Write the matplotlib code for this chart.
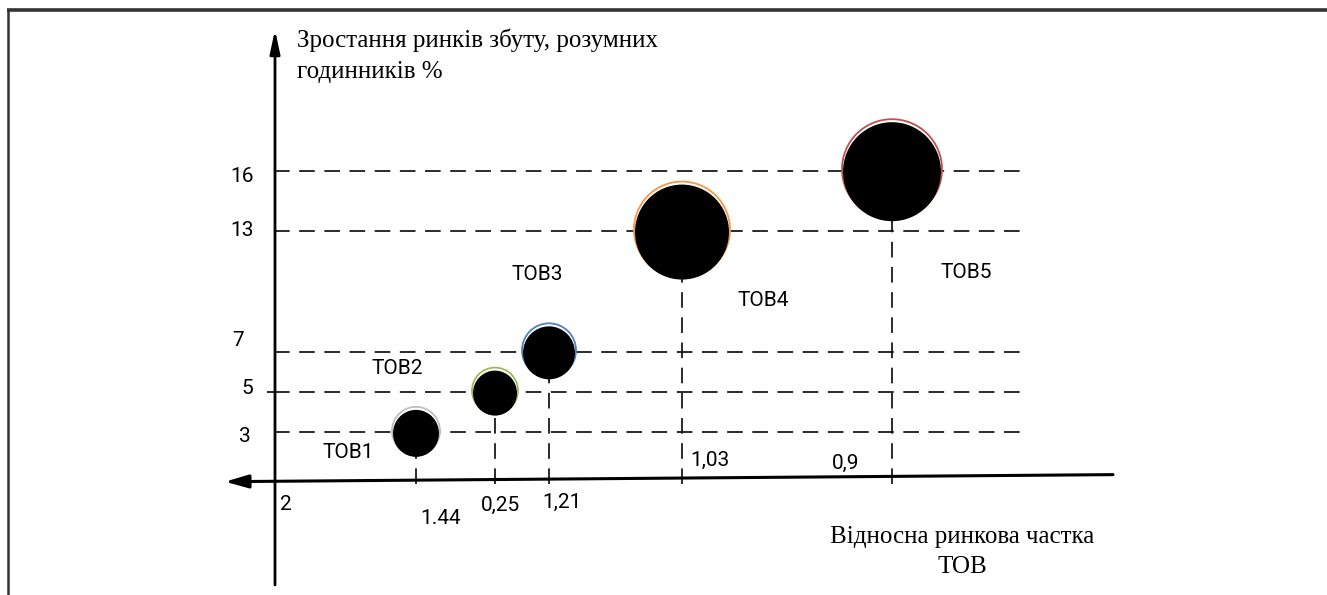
import matplotlib
matplotlib.use('Agg')
import matplotlib.pyplot as plt
from matplotlib.patches import Ellipse

# BCG-style sketch: market growth vs relative market share
companies = ["ТОВ1", "ТОВ2", "ТОВ3", "ТОВ4", "ТОВ5"]
growth = [3, 5, 7, 13, 16]
share_labels = ["1.44", "0,25", "1,21", "1,03", "0,9"]
origin_label = "2"
# horizontal placement of each company on the sketch (diagram units)
x_pos = [416, 495, 549, 682, 892]
bubble_r = [24, 23, 27, 48, 50]
rim_colors = ["#bfbfbf", "#9bbb59", "#4f81bd", "#f79646", "#c0504d"]

W, H = 1327, 595
plt.rcParams['font.family'] = ['Roboto', 'DejaVu Sans']

fig = plt.figure(figsize=(W / 100, H / 100), dpi=100)
fig.patch.set_facecolor("white")

# data axes: x in diagram units, y in growth %
ax = fig.add_axes([0, 0, 1, 1])
ax.set_xlim(0, W)
ax.set_ylim(-5.08, 24.48)
ax.axis("off")
unit_px = H / (24.48 + 5.08)
axis_level = 0.55

dash = (0, (9, 5.5))
ax.hlines(growth, 274, 1027, colors="#111111", lw=1.25, linestyles=dash, zorder=1)
ax.hlines(5, 267, 275, colors="#111111", lw=1.25, zorder=1)
bottoms = [g - r / unit_px for g, r in zip(growth, bubble_r)]
ax.vlines(x_pos, axis_level - 0.1, bottoms, colors="#111111", lw=1.25,
          linestyles=dash, zorder=1)

for x, g, r, c in zip(x_pos, growth, bubble_r, rim_colors):
    h = 2 * r / unit_px
    ax.add_patch(Ellipse((x, g + 1.5 / unit_px), 2 * r, h, facecolor="white",
                         edgecolor=c, lw=1.3, zorder=3))
    ax.add_patch(Ellipse((x, g - 1.0 / unit_px), 2 * r - 2, h - 1 / unit_px,
                         facecolor="black", edgecolor="none", zorder=4))

# axes with arrows
ax.annotate("", xy=(275, 23.0), xytext=(275, -4.58),
            arrowprops=dict(arrowstyle="-|>,head_length=0.7,head_width=0.15",
                            mutation_scale=20, lw=2, color="black",
                            shrinkA=0, shrinkB=0), zorder=5)
ax.annotate("", xy=(225, axis_level), xytext=(1113, axis_level + 0.35),
            arrowprops=dict(arrowstyle="-|>,head_length=0.7,head_width=0.2",
                            mutation_scale=20, lw=2.2, color="black",
                            shrinkA=0, shrinkB=0), zorder=5)

# overlay in pixel coordinates for frame and text
ov = fig.add_axes([0, 0, 1, 1])
ov.set_xlim(0, W)
ov.set_ylim(H, 0)
ov.axis("off")
ov.patch.set_alpha(0)
ov.plot([7, W], [10, 10], color="#333333", lw=2.6, solid_capstyle="butt")
ov.plot([8, 8], [10, H], color="#333333", lw=1.8, solid_capstyle="butt")

fs = 15
ytick_xy = [(245, 436), (247, 389), (238, 340), (242, 231), (242, 176)]
for g, (tx, ty) in zip(growth, ytick_xy):
    ov.text(tx, ty, str(g), ha="center", va="center", fontsize=fs)

xtick_xy = [(441, 519), (500, 505), (562, 502), (710, 460), (846, 463)]
for s, (tx, ty) in zip(share_labels, xtick_xy):
    ov.text(tx, ty, s, ha="center", va="center", fontsize=fs)
ov.text(286, 505, origin_label, ha="center", va="center", fontsize=fs)

name_xy = [(348, 453), (397, 368), (537, 275), (763, 300), (966, 272)]
for s, (tx, ty) in zip(companies, name_xy):
    ov.text(tx, ty, s, ha="center", va="center", fontsize=fs)

serif = ["Liberation Serif", "DejaVu Serif"]
ov.text(297, 40, "Зростання ринків збуту, розумних", ha="left", va="center",
        fontsize=18, family=serif)
ov.text(297, 72, "годинників %", ha="left", va="center", fontsize=18, family=serif)
ov.text(962, 537, "Відносна ринкова частка", ha="center", va="center",
        fontsize=18, family=serif)
ov.text(962, 567, "ТОВ", ha="center", va="center", fontsize=18, family=serif)

fig.savefig("out.png", dpi=100)
